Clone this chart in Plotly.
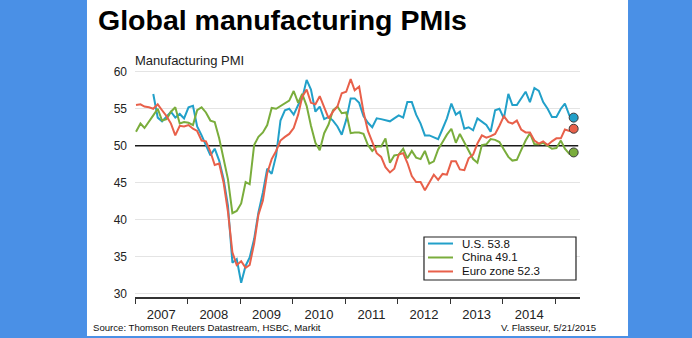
import pandas as pd
import plotly.graph_objects as go

# ---------------- data ----------------
months = pd.date_range("2007-01-01", "2015-05-01", freq="MS") + pd.Timedelta(days=7)

euro = [
    55.5, 55.6, 55.3, 55.2, 55.0, 55.6, 54.8, 54.0, 53.0, 51.4, 52.7, 52.6,
    52.8, 52.3, 52.0, 50.7, 50.6, 49.2, 47.4, 47.6, 45.0, 41.1, 35.6, 33.9,
    34.4, 33.5, 33.9, 36.8, 40.7, 42.6, 46.3, 48.2, 49.3, 50.7, 51.2, 51.6,
    52.4, 54.2, 56.6, 57.6, 55.8, 55.6, 56.7, 55.1, 53.7, 54.6, 55.3, 57.1,
    57.3, 59.0, 57.5, 58.0, 54.6, 52.0, 50.4, 49.0, 48.5, 47.1, 46.4, 46.9,
    48.8, 49.0, 47.7, 45.9, 45.1, 45.1, 44.0, 45.1, 46.1, 45.4, 46.2, 46.1,
    47.9, 47.9, 46.8, 46.7, 48.3, 48.8, 50.3, 51.4, 51.1, 51.3, 51.6, 52.7,
    54.0, 53.2, 53.0, 53.4, 52.2, 51.8, 51.8, 50.7, 50.3, 50.6, 50.1, 50.6,
    51.0, 51.0, 52.2, 52.0, 52.3,
]

china = [
    51.9, 53.0, 52.4, 53.2, 54.1, 55.0, 53.4, 53.6, 54.6, 55.2, 53.0, 53.2,
    53.1, 52.8, 54.8, 55.2, 54.5, 53.4, 53.2, 51.0, 48.3, 45.5, 40.9, 41.2,
    42.2, 45.1, 44.8, 50.1, 51.2, 51.8, 52.8, 55.1, 55.0, 55.4, 55.7, 56.1,
    57.4, 55.8, 57.0, 55.4, 52.7, 50.4, 49.4, 51.7, 52.9, 54.8, 55.3, 54.4,
    54.5, 51.7, 51.8, 51.8, 51.6, 50.1, 49.3, 49.9, 49.9, 51.0, 47.7, 48.7,
    48.8, 49.6, 48.3, 49.3, 48.4, 48.2, 49.3, 47.6, 47.9, 49.5, 50.5, 51.5,
    52.3, 50.4, 51.6, 50.4, 49.2, 48.2, 47.7, 50.1, 50.2, 50.9, 50.8, 50.5,
    49.5, 48.5, 48.0, 48.1, 49.4, 50.7, 51.7, 50.2, 50.2, 50.4, 50.0, 49.6,
    49.7, 50.7, 49.6, 48.9, 49.1,
]

us = [None, None, None, None,
    57.0, 53.8, 53.3, 53.9, 54.6, 53.8, 54.3, 53.7,
    55.2, 55.4, 52.6, 51.4, 50.0, 48.7, 49.6, 48.0, 45.5, 41.9, 34.2, 34.7,
    31.5, 33.8, 34.9, 37.4, 41.0, 43.7, 46.9, 46.2, 48.7, 53.4, 54.8, 55.0,
    54.2, 55.5, 56.4, 58.9, 57.6, 54.6, 55.3, 53.6, 53.9, 53.4, 52.6, 51.5,
    53.5, 56.4, 56.4, 55.8, 54.0, 53.1, 52.5, 53.7, 53.6, 53.5, 53.3, 53.7,
    54.1, 53.8, 55.9, 55.9, 54.2, 53.0, 51.4, 51.4, 51.1, 50.9, 52.3, 53.7,
    55.7, 54.2, 54.6, 52.3, 52.5, 52.1, 53.7, 53.2, 52.8, 51.9, 54.8, 55.0,
    53.7, 57.0, 55.5, 55.5, 56.4, 57.3, 55.9, 57.8, 57.4, 55.9, 55.0, 53.9,
    53.9, 55.0, 55.7, 54.1, 53.8,
]

series_names = ["U.S.", "China", "Euro zone"]
series_values = [us, china, euro]
y_ticks = [30, 35, 40, 45, 50, 55, 60]
reference_level = 50

title_text = "Global manufacturing PMIs"
subtitle_text = "Manufacturing PMI"
source_text = "Source: Thomson Reuters Datastream, HSBC, Markit"
credit_text = "V. Flasseur, 5/21/2015"

# ---------------- styles ----------------
colors = ["#22a0c9", "#7aad3c", "#e8604a"]
FONT = "Liberation Sans, Arial, sans-serif"

fig = go.Figure()

for name, vals, col in zip(series_names, series_values, colors):
    fig.add_trace(go.Scatter(
        x=months, y=vals, mode="lines", name=name,
        line=dict(color=col, width=2), connectgaps=False,
        showlegend=False, hoverinfo="skip",
    ))

for name, vals, col in zip(series_names, series_values, colors):
    fig.add_trace(go.Scatter(
        x=[months[-1]], y=[vals[-1]], mode="markers",
        marker=dict(color=col, size=9, line=dict(color="#3a3a3a", width=1)),
        showlegend=False, hoverinfo="skip",
    ))

shapes = [
    # white panel on blue background
    dict(type="rect", xref="paper", yref="paper", x0=-0.1079, x1=1.1079,
         y0=-0.168, y1=1.35, fillcolor="white", line=dict(width=0), layer="below"),
    # 50 reference line
    dict(type="line", xref="x domain", yref="y", x0=0, x1=0.996,
         y0=reference_level, y1=reference_level,
         line=dict(color="#1a1a1a", width=1.5), layer="below"),
    # legend box
    dict(type="rect", xref="paper", yref="paper", x0=0.6494, x1=0.991,
         y0=0.0733, y1=0.2586, fillcolor="white",
         line=dict(color="#222222", width=1.2), layer="above"),
]

legend_rows = [0.2305, 0.1703, 0.1100]
annotations = []
for name, vals, col, yy in zip(series_names, series_values, colors, legend_rows):
    shapes.append(dict(type="line", xref="paper", yref="paper", x0=0.6584, x1=0.7146,
                       y0=yy, y1=yy, line=dict(color=col, width=2), layer="above"))
    annotations.append(dict(xref="paper", yref="paper", x=0.7320, y=yy,
                            xanchor="left", yanchor="middle", showarrow=False,
                            borderpad=0,
                            text=f"{name} {vals[-1]}",
                            font=dict(family=FONT, size=11.5, color="#111111")))

annotations += [
    dict(xref="paper", yref="paper", x=-0.0875, y=1.195, xanchor="left", yanchor="middle",
         showarrow=False, text=f"<b>{title_text}</b>",
         font=dict(family=FONT, size=28.5, color="#000000")),
    dict(xref="paper", yref="paper", x=-0.004, y=1.019, xanchor="left", yanchor="middle",
         showarrow=False, text=subtitle_text,
         font=dict(family=FONT, size=13, color="#222222")),
    dict(xref="paper", yref="paper", x=-0.0985, y=-0.1336, xanchor="left", yanchor="middle",
         showarrow=False, text=source_text,
         font=dict(family=FONT, size=9.6, color="#111111")),
    dict(xref="paper", yref="paper", x=1.0415, y=-0.1336, xanchor="right", yanchor="middle",
         showarrow=False, text=credit_text,
         font=dict(family=FONT, size=9.6, color="#111111")),
]

grid_vals = [v for v in y_ticks if v != reference_level]

fig.update_layout(
    width=692, height=338,
    margin=dict(l=135, r=112, t=65, b=41),
    paper_bgcolor="#4a90e6",
    plot_bgcolor="rgba(0,0,0,0)",
    shapes=shapes,
    annotations=annotations,
    showlegend=False,
    font=dict(family=FONT, color="#222222"),
)

fig.update_xaxes(
    type="date", range=["2007-01-01", "2015-06-21"],
    tick0="2007-01-01", dtick="M12", tickformat="%Y", ticklabelmode="period",
    ticks="outside", ticklen=5, tickcolor="#333333", tickwidth=1.3,
    showline=True, linecolor="#333333", linewidth=1.5,
    showgrid=False, zeroline=False,
    tickfont=dict(family=FONT, size=13, color="#222222"),
)
fig.update_yaxes(
    range=[29.57, 60.91], tickvals=y_ticks,
    showgrid=False,
    minor=dict(tickvals=grid_vals, showgrid=True, gridcolor="#e4e4e4", gridwidth=1, ticks=""),
    zeroline=False, showline=False, ticks="", ticklabelstandoff=7,
    tickfont=dict(family=FONT, size=12, color="#222222"),
)

fig.write_html("out.html")
